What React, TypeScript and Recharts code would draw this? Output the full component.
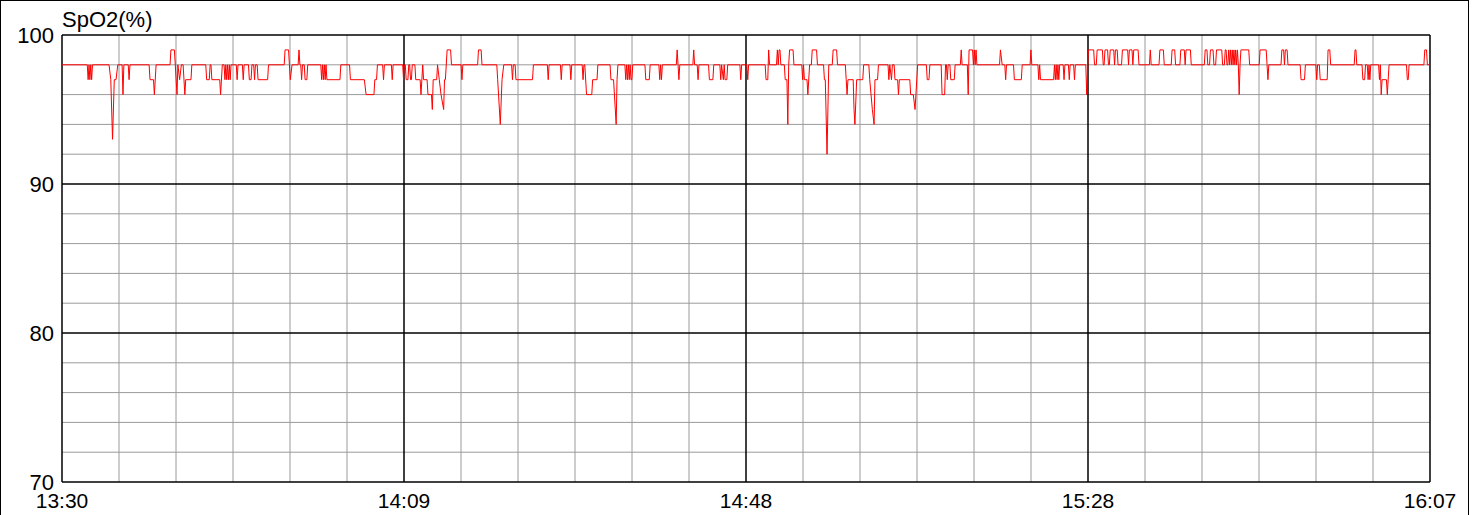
import { LineChart, Line, XAxis, YAxis, ReferenceLine } from "recharts";

// minutes after 13:30, SpO2 %
const SPO2_POINTS: [number, number][] = [
  [0, 98], [2.9, 98], [3.0, 97], [3.1, 98], [3.2, 97], [3.3, 98], [3.4, 97], [3.5, 98],
  [5.4, 98], [5.6, 97], [5.8, 93], [6.0, 97], [6.2, 97], [6.4, 98],
  [6.9, 98], [7.0, 96], [7.1, 98], [7.6, 98], [7.7, 97], [7.8, 98],
  [10.0, 98], [10.1, 97], [10.5, 97], [10.6, 96], [10.8, 98],
  [12.4, 98], [12.5, 99], [12.9, 99],
  [13.2, 96], [13.3, 98], [13.5, 97], [13.7, 98], [13.9, 98], [14.1, 96], [14.2, 97], [14.8, 97], [14.9, 98],
  [16.5, 98], [16.6, 97], [16.9, 97], [17.0, 98], [17.1, 98], [17.2, 97], [18.1, 97], [18.2, 96], [18.4, 98],
  [18.6, 98], [18.7, 97], [18.8, 98], [18.9, 97], [19.0, 98], [19.1, 97], [19.2, 98], [19.3, 97], [19.4, 98],
  [20.0, 98], [20.1, 97], [20.2, 98], [20.7, 98], [20.8, 97], [20.9, 98],
  [21.4, 98], [21.5, 97], [21.7, 97], [21.8, 98], [22.0, 98], [22.1, 97], [22.2, 98],
  [22.4, 98], [22.5, 97], [23.6, 97], [23.7, 98],
  [25.5, 98], [25.6, 99], [26.0, 99],
  [26.1, 98], [26.2, 97], [26.4, 98], [27.1, 98], [27.2, 99], [27.3, 98],
  [27.4, 98], [27.5, 97], [27.6, 98], [27.8, 98], [27.9, 97], [28.1, 97], [28.2, 98],
  [29.7, 98], [29.8, 97], [29.9, 98], [30.0, 97], [30.1, 98], [30.2, 97], [30.3, 98], [30.4, 97],
  [31.9, 97], [32.0, 98], [33.0, 98], [33.1, 97], [34.7, 97], [34.9, 96], [35.8, 96], [35.9, 97],
  [36.1, 97], [36.2, 98], [36.8, 98], [36.9, 97], [37.0, 98], [37.8, 98], [37.9, 97], [38.0, 98],
  [39.1, 98], [39.2, 97], [39.3, 98], [39.4, 98], [39.5, 97], [39.7, 97], [39.8, 98],
  [39.9, 98], [40.0, 97], [40.1, 97], [40.2, 98], [40.5, 98], [40.6, 97], [41.1, 97],
  [41.2, 96], [41.4, 98], [41.5, 97], [41.9, 97], [42.0, 96], [42.4, 96],
  [42.5, 95], [42.6, 97], [43.0, 97], [43.1, 98], [43.3, 97], [43.5, 96], [43.8, 95], [43.9, 97],
  [44.0, 97], [44.2, 99], [44.6, 99], [44.7, 98],
  [45.8, 98], [45.9, 97], [46.0, 98], [47.7, 98], [47.8, 99], [48.1, 99], [48.2, 98],
  [49.9, 98], [50.0, 97], [50.3, 94], [50.5, 97], [50.7, 98],
  [51.6, 98], [51.7, 97], [51.8, 98], [52.0, 98], [52.1, 97], [54.0, 97], [54.1, 98],
  [55.7, 98], [55.8, 97], [55.9, 98], [57.2, 98], [57.3, 97], [57.4, 98],
  [58.3, 98], [58.4, 97], [58.5, 98], [59.7, 98], [59.8, 97], [59.9, 98],
  [60.0, 98], [60.2, 96], [60.8, 96], [60.9, 97], [61.4, 97], [61.5, 98],
  [62.9, 98], [63.0, 97], [63.3, 97], [63.6, 94], [63.7, 97], [63.8, 98],
  [64.6, 98], [64.7, 97], [64.8, 98], [64.9, 97], [65.0, 98], [65.1, 97], [65.2, 98], [65.3, 97],
  [65.4, 97], [65.5, 98], [66.9, 98], [67.0, 97], [67.4, 97], [67.5, 98],
  [68.5, 98], [68.6, 97], [68.7, 98], [68.8, 97], [68.9, 98],
  [70.5, 98], [70.6, 99], [70.8, 97], [70.9, 98], [72.4, 98], [72.5, 99], [72.6, 98],
  [72.9, 98], [73.0, 97], [73.1, 98], [74.2, 98], [74.3, 97], [74.7, 97], [74.8, 98],
  [75.5, 98], [75.6, 97], [75.7, 98], [75.9, 97], [76.0, 98], [76.1, 97], [76.3, 97], [76.4, 98],
  [77.8, 98], [77.9, 97], [78.0, 98], [78.6, 98], [78.7, 97], [78.8, 98],
  [80.7, 98], [80.8, 97], [81.0, 97], [81.1, 99], [81.2, 98],
  [82.0, 98], [82.1, 99], [82.2, 98], [82.3, 99], [82.4, 99], [82.5, 98],
  [82.9, 98], [83.0, 97], [83.2, 97], [83.3, 94], [83.4, 98], [83.5, 99], [83.9, 99], [84.0, 98],
  [84.9, 98], [85.0, 97], [85.1, 98], [85.2, 97], [85.5, 97], [85.6, 96], [85.8, 98],
  [86.0, 98], [86.1, 99], [86.6, 99], [86.7, 98],
  [87.4, 98], [87.5, 97], [87.6, 97], [87.8, 92], [88.0, 98],
  [88.4, 98], [88.5, 99], [88.9, 99], [89.0, 98],
  [89.9, 98], [90.0, 97], [90.1, 96], [90.2, 97], [90.8, 97], [90.9, 95], [91.0, 94], [91.2, 97],
  [91.9, 97], [92.0, 98], [92.6, 98], [92.7, 97], [93.0, 95], [93.2, 94], [93.3, 97], [93.6, 97], [93.7, 98],
  [94.8, 98], [94.9, 97], [95.0, 98], [95.2, 97], [95.3, 98],
  [95.5, 98], [95.6, 97], [95.9, 97], [96.0, 96], [96.1, 97], [97.3, 97], [97.4, 96], [97.7, 96],
  [97.9, 95], [98.0, 96], [98.2, 98],
  [99.2, 98], [99.3, 97], [99.5, 97], [99.6, 98],
  [100.9, 98], [101.0, 96], [101.3, 96], [101.4, 98], [101.5, 98], [101.6, 97], [101.7, 98],
  [101.9, 98], [102.0, 97], [102.4, 97], [102.5, 98],
  [103.1, 98], [103.2, 99], [103.3, 98], [103.9, 98], [104.0, 96], [104.1, 99], [104.5, 99],
  [104.6, 98], [104.7, 99], [104.8, 98], [104.9, 99], [105.0, 98],
  [107.6, 98], [107.7, 99], [107.9, 98], [108.2, 98], [108.3, 97], [108.4, 98],
  [109.2, 98], [109.3, 97], [110.1, 97], [110.2, 98], [111.1, 98], [111.2, 99], [111.3, 98],
  [112.0, 98], [112.1, 97], [112.2, 98], [112.3, 97], [113.8, 97],
  [113.9, 98], [114.0, 97], [114.1, 98], [114.2, 97], [114.3, 98], [114.4, 97], [114.5, 98],
  [114.9, 98], [115.0, 97], [115.1, 98], [115.5, 98], [115.6, 97], [115.7, 98],
  [116.1, 98], [116.2, 97], [116.3, 98], [117.5, 98], [117.6, 96], [117.8, 99],
  [118.4, 99], [118.5, 98], [118.7, 98], [118.8, 99], [119.4, 99], [119.5, 98], [119.6, 98],
  [119.7, 99], [120.0, 99], [120.1, 98], [120.2, 98], [120.3, 99], [120.7, 99], [120.8, 98],
  [120.9, 99], [121.1, 99], [121.2, 98], [121.6, 98], [121.7, 99], [122.3, 99], [122.4, 98],
  [122.5, 99], [122.8, 99], [122.9, 98], [123.0, 99], [123.5, 99], [123.6, 98],
  [124.8, 98], [124.9, 99], [125.0, 98], [125.9, 98], [126.0, 99], [126.4, 99], [126.5, 98],
  [127.3, 98], [127.4, 99], [127.7, 99], [127.8, 98],
  [128.3, 98], [128.4, 99], [128.8, 99], [128.9, 98], [129.0, 99], [129.5, 99], [129.6, 98],
  [131.1, 98], [131.2, 99], [131.4, 99], [131.5, 98], [131.7, 98], [131.8, 99], [132.1, 99], [132.2, 98],
  [132.4, 98], [132.5, 99], [133.1, 99], [133.2, 98], [133.4, 98], [133.5, 99], [133.6, 99], [133.7, 98],
  [133.8, 98], [133.9, 99], [134.0, 98], [134.1, 99], [134.2, 98], [134.3, 99], [134.4, 98],
  [134.5, 99], [134.6, 98], [134.7, 99], [134.8, 98], [134.9, 99], [135.0, 98], [135.1, 96],
  [135.2, 98], [135.3, 99], [136.2, 99], [136.3, 98],
  [137.4, 98], [137.5, 99], [138.2, 99], [138.3, 98], [138.4, 97], [138.5, 98],
  [139.9, 98], [140.0, 99], [140.2, 99], [140.3, 98], [140.4, 99], [140.6, 99], [140.7, 98],
  [142.1, 98], [142.2, 97], [142.6, 97], [142.7, 98],
  [143.9, 98], [144.0, 97], [144.1, 98], [144.3, 98], [144.4, 97], [145.2, 97], [145.3, 99], [145.5, 99], [145.6, 98],
  [148.3, 98], [148.4, 99], [148.5, 99], [148.6, 98],
  [149.2, 98], [149.3, 97], [149.5, 97], [149.6, 98], [149.8, 98], [149.9, 97], [150.0, 98], [150.1, 97], [150.2, 98],
  [151.1, 98], [151.2, 97], [151.3, 98], [151.4, 96], [151.5, 97], [152.0, 97], [152.1, 96], [152.3, 98],
  [154.3, 98], [154.4, 97], [154.5, 97], [154.6, 98],
  [156.3, 98], [156.4, 99], [156.6, 99], [156.7, 98], [157, 98],
];

const TIME_LABELS = ["13:30", "14:09", "14:48", "15:28", "16:07"];
const TIME_TICKS = [0, 39.25, 78.5, 117.75, 157];
const VALUE_TICKS = [70, 80, 90, 100];
const MINOR_VALUES = [72, 74, 76, 78, 82, 84, 86, 88, 92, 94, 96, 98];

const data = SPO2_POINTS.map(([t, v]) => ({ t, v }));
// 6 minor divisions inside each major time division
const minorTimes = Array.from({ length: 24 }, (_, i) => (i * 157) / 24).filter((_, i) => i % 6 !== 0);

const FONT = "'Liberation Sans', Arial, sans-serif";

export default function App() {
  return (
    <div
      style={{
        position: "relative",
        width: 1476,
        height: 515,
        background: "#fff",
        fontFamily: FONT,
      }}
    >
      <style>{"body{margin:0}"}</style>
      {/* outer frame */}
      <div
        style={{
          position: "absolute",
          left: 0,
          top: 0,
          width: 1467,
          height: 515,
          borderLeft: "1px solid #000",
          borderTop: "1px solid #000",
          borderRight: "1px solid #000",
          pointerEvents: "none",
        }}
      />
      <div style={{ position: "absolute", left: 62, top: 8, fontSize: 22, lineHeight: "24px", color: "#000" }}>
        SpO2(%)
      </div>
      <LineChart width={1476} height={515} data={data} margin={{ top: 35, right: 46, bottom: 0, left: 0 }}>
        <XAxis
          type="number"
          dataKey="t"
          domain={[0, 157]}
          ticks={TIME_TICKS}
          tickFormatter={(v) => TIME_LABELS[TIME_TICKS.indexOf(v)] ?? ""}
          axisLine={false}
          tickLine={false}
          height={33}
          tick={{ fontSize: 21, fill: "#000", fontFamily: FONT, dy: 3 }}
          interval={0}
        />
        <YAxis
          type="number"
          domain={[70, 100]}
          ticks={VALUE_TICKS}
          axisLine={false}
          tickLine={false}
          width={62}
          tick={{ fontSize: 22, fill: "#000", fontFamily: FONT }}
          interval={0}
        />
        {minorTimes.map((t) => (
          <ReferenceLine key={`mx${t}`} x={t} stroke="#9a9a9a" strokeWidth={1} />
        ))}
        {MINOR_VALUES.map((v) => (
          <ReferenceLine key={`my${v}`} y={v} stroke="#9a9a9a" strokeWidth={1} />
        ))}
        {TIME_TICKS.map((t) => (
          <ReferenceLine key={`x${t}`} x={t} stroke="#000" strokeWidth={1.5} />
        ))}
        {VALUE_TICKS.map((v) => (
          <ReferenceLine key={`y${v}`} y={v} stroke="#000" strokeWidth={1.5} />
        ))}
        <Line
          type="linear"
          dataKey="v"
          stroke="#ff0000"
          strokeWidth={1}
          dot={false}
          isAnimationActive={false}
        />
      </LineChart>
    </div>
  );
}
